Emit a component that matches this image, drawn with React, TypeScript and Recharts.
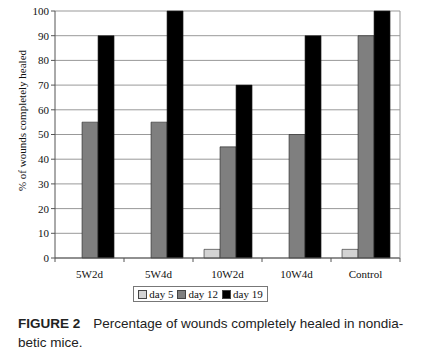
import { BarChart, Bar, XAxis, YAxis, CartesianGrid, Legend, Label } from 'recharts';

const groups = ['5W2d', '5W4d', '10W2d', '10W4d', 'Control'];
const day5 = [0, 0, 3.5, 0, 3.5];
const day12 = [55, 55, 45, 50, 90];
const day19 = [90, 100, 70, 90, 100];
const yTicks = [0, 10, 20, 30, 40, 50, 60, 70, 80, 90, 100];

const rows = groups.map((g, i) => ({ group: g, day5: day5[i], day12: day12[i], day19: day19[i] }));

const SERIF = '"Liberation Serif", "DejaVu Serif", serif';
const SANS = '"Liberation Sans", Arial, sans-serif';

const seriesInfo = [
  { key: 'day5', name: 'day 5', fill: '#d3d3d3' },
  { key: 'day12', name: 'day 12', fill: '#7f7f7f' },
  { key: 'day19', name: 'day 19', fill: '#000000' },
];

// category ticks sit at the band centre; draw the boundary marks ourselves
const GroupTick = (props: any) => {
  const { x, y, payload, index } = props;
  const off = payload.offset ?? 0;
  return (
    <g>
      <line x1={x - off} x2={x - off} y1={y - 8} y2={y - 4} stroke="#555" />
      {index === groups.length - 1 && (
        <line x1={x + off} x2={x + off} y1={y - 8} y2={y - 4} stroke="#555" />
      )}
      <text x={x} y={y + 12} textAnchor="middle" fontFamily={SERIF} fontSize={11} fill="#111">
        {payload.value}
      </text>
    </g>
  );
};

// axis title sits a little above the plot's middle in the original
const YTitle = (props: any) => {
  const vb = props.viewBox || {};
  const cy = vb.y + vb.height / 2 - 14;
  const cx = 22;
  return (
    <text
      x={cx}
      y={cy}
      transform={`rotate(-90 ${cx} ${cy})`}
      textAnchor="middle"
      dominantBaseline="central"
      fontFamily={SERIF}
      fontSize={11}
      fill="#111"
    >
      % of wounds completely healed
    </text>
  );
};

const LegendBox = () => (
  <div style={{ display: 'flex', justifyContent: 'center' }}>
    <div
      style={{
        border: '1px solid #777',
        padding: '1px 4px',
        fontFamily: SERIF,
        fontSize: 11,
        color: '#111',
        display: 'flex',
        alignItems: 'center',
        gap: 4,
      }}
    >
      {seriesInfo.map((s) => (
        <span key={s.key} style={{ display: 'flex', alignItems: 'center' }}>
          <span
            style={{
              width: 7,
              height: 7,
              background: s.fill,
              border: '1px solid #444',
              marginRight: 2,
              display: 'inline-block',
            }}
          />
          {s.name}
        </span>
      ))}
    </div>
  </div>
);

export default function App() {
  return (
    <div style={{ position: 'absolute', left: 0, top: 0, width: 426, height: 354, background: '#fff' }}>
      <BarChart
        width={426}
        height={306}
        data={rows}
        margin={{ top: 11, right: 25, bottom: 0, left: 0 }}
        barGap={0}
        barCategoryGap="16%"
      >
        <CartesianGrid vertical={false} stroke="#999" />
        <XAxis
          dataKey="group"
          tick={<GroupTick />}
          tickLine={false}
          axisLine={{ stroke: '#555' }}
          interval={0}
          height={32}
        />
        <YAxis
          domain={[0, 100]}
          ticks={yTicks}
          interval={0}
          width={55}
          tickSize={4}
          tickLine={{ stroke: '#555' }}
          axisLine={{ stroke: '#555' }}
          tick={{ fontFamily: SERIF, fontSize: 11, fill: '#111' }}
        >
          <Label content={<YTitle />} />
        </YAxis>
        <YAxis
          yAxisId="r"
          orientation="right"
          domain={[0, 100]}
          width={1}
          tick={false}
          tickLine={false}
          axisLine={{ stroke: '#999' }}
        />
        {seriesInfo.map((s) => (
          <Bar
            key={s.key}
            dataKey={s.key}
            name={s.name}
            fill={s.fill}
            stroke="#222"
            strokeWidth={0.6}
            isAnimationActive={false}
          />
        ))}
        <Legend verticalAlign="bottom" content={<LegendBox />} wrapperStyle={{ bottom: 4 }} />
      </BarChart>
      <div
        style={{
          position: 'absolute',
          left: 18,
          top: 314,
          width: 408,
          fontFamily: SANS,
          fontSize: 13.5,
          lineHeight: '19px',
          color: '#222',
        }}
      >
        <span style={{ fontWeight: 'bold', marginRight: 13 }}>FIGURE 2</span>
        Percentage of wounds completely healed in nondia-
        <br />
        betic mice.
      </div>
    </div>
  );
}
